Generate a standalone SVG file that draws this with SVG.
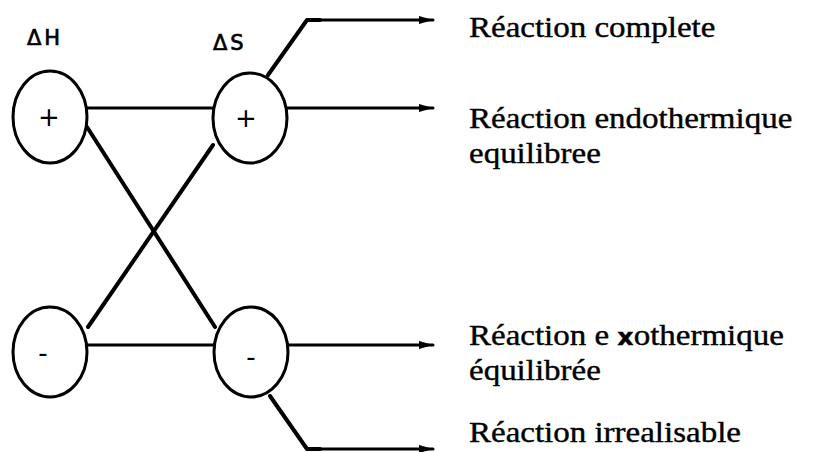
<svg xmlns="http://www.w3.org/2000/svg" width="827" height="452" viewBox="0 0 827 452">
<style>
.node ellipse{fill:#fff;stroke:#000;stroke-width:3}
.sign{font-family:"DejaVu Sans",sans-serif;font-size:26px;fill:#000;text-anchor:middle}
.hdr{font-family:"DejaVu Sans",sans-serif;font-size:21px;fill:#000;stroke:#000;stroke-width:0.7}
.lbl{font-family:"Liberation Serif","Times New Roman",serif;font-size:30px;fill:#000;stroke:#000;stroke-width:0.4}
.c line,.c polyline{stroke:#000;fill:none;stroke-linecap:round;stroke-linejoin:round}
.h{stroke-width:3}
.d{stroke-width:4}
</style>
<defs>
<marker id="ah" markerUnits="userSpaceOnUse" markerWidth="16" markerHeight="12" refX="14" refY="6" orient="auto">
<path d="M0,2 L14,6 L0,10 Z" fill="#000"/>
</marker>
</defs>
<rect width="827" height="452" fill="#fff"/>
<g id="connectors" class="c">
<line class="h" x1="86" y1="108" x2="213" y2="108"/>
<line class="h" x1="88" y1="345" x2="215" y2="345"/>
<line class="d" x1="87" y1="127" x2="215" y2="327"/>
<line class="d" x1="213" y1="145" x2="88" y2="327"/>
<polyline class="d" points="268,75 307,20 320,20"/>
<line class="h" x1="307" y1="20" x2="433" y2="20" marker-end="url(#ah)"/>
<line class="h" x1="286" y1="108" x2="433" y2="108" marker-end="url(#ah)"/>
<line class="h" x1="287" y1="345" x2="433" y2="345" marker-end="url(#ah)"/>
<polyline class="d" points="270,396 307,449 320,449"/>
<line class="h" x1="307" y1="449" x2="433" y2="449" marker-end="url(#ah)"/>
</g>
<g id="label-dH"><text class="hdr" x="27" y="45" letter-spacing="3">ΔH</text></g>
<g id="label-dS"><text class="hdr" x="213" y="50" letter-spacing="3" font-size="19">ΔS</text></g>
<g id="node-H-plus" class="node"><ellipse cx="50" cy="117" rx="37" ry="46"/><text class="sign" x="49" y="126">+</text></g>
<g id="node-S-plus" class="node"><ellipse cx="250" cy="118" rx="37" ry="45"/><text class="sign" x="246" y="127">+</text></g>
<g id="node-H-minus" class="node"><ellipse cx="50" cy="352" rx="37" ry="45"/><text class="sign" x="43" y="362">-</text></g>
<g id="node-S-minus" class="node"><ellipse cx="251" cy="352" rx="37" ry="45"/><text class="sign" x="251" y="366">-</text></g>
<g id="out-complete" transform="translate(469,0) scale(1.1,1)"><text class="lbl" x="0" y="37">Réaction complete</text></g>
<g id="out-endo" transform="translate(469,0) scale(1.1,1)"><text class="lbl" x="0" y="128">Réaction endothermique</text><text class="lbl" x="0" y="163">equilibree</text></g>
<g id="out-exo" transform="translate(469,0) scale(1.1,1)"><text class="lbl" x="0" y="345">Réaction e <tspan font-weight="bold" font-family="'DejaVu Sans',sans-serif" font-size="23">x</tspan>othermique</text><text class="lbl" x="0" y="380">équilibrée</text></g>
<g id="out-irr" transform="translate(469,0) scale(1.1,1)"><text class="lbl" x="0" y="442">Réaction irrealisable</text></g>
</svg>
